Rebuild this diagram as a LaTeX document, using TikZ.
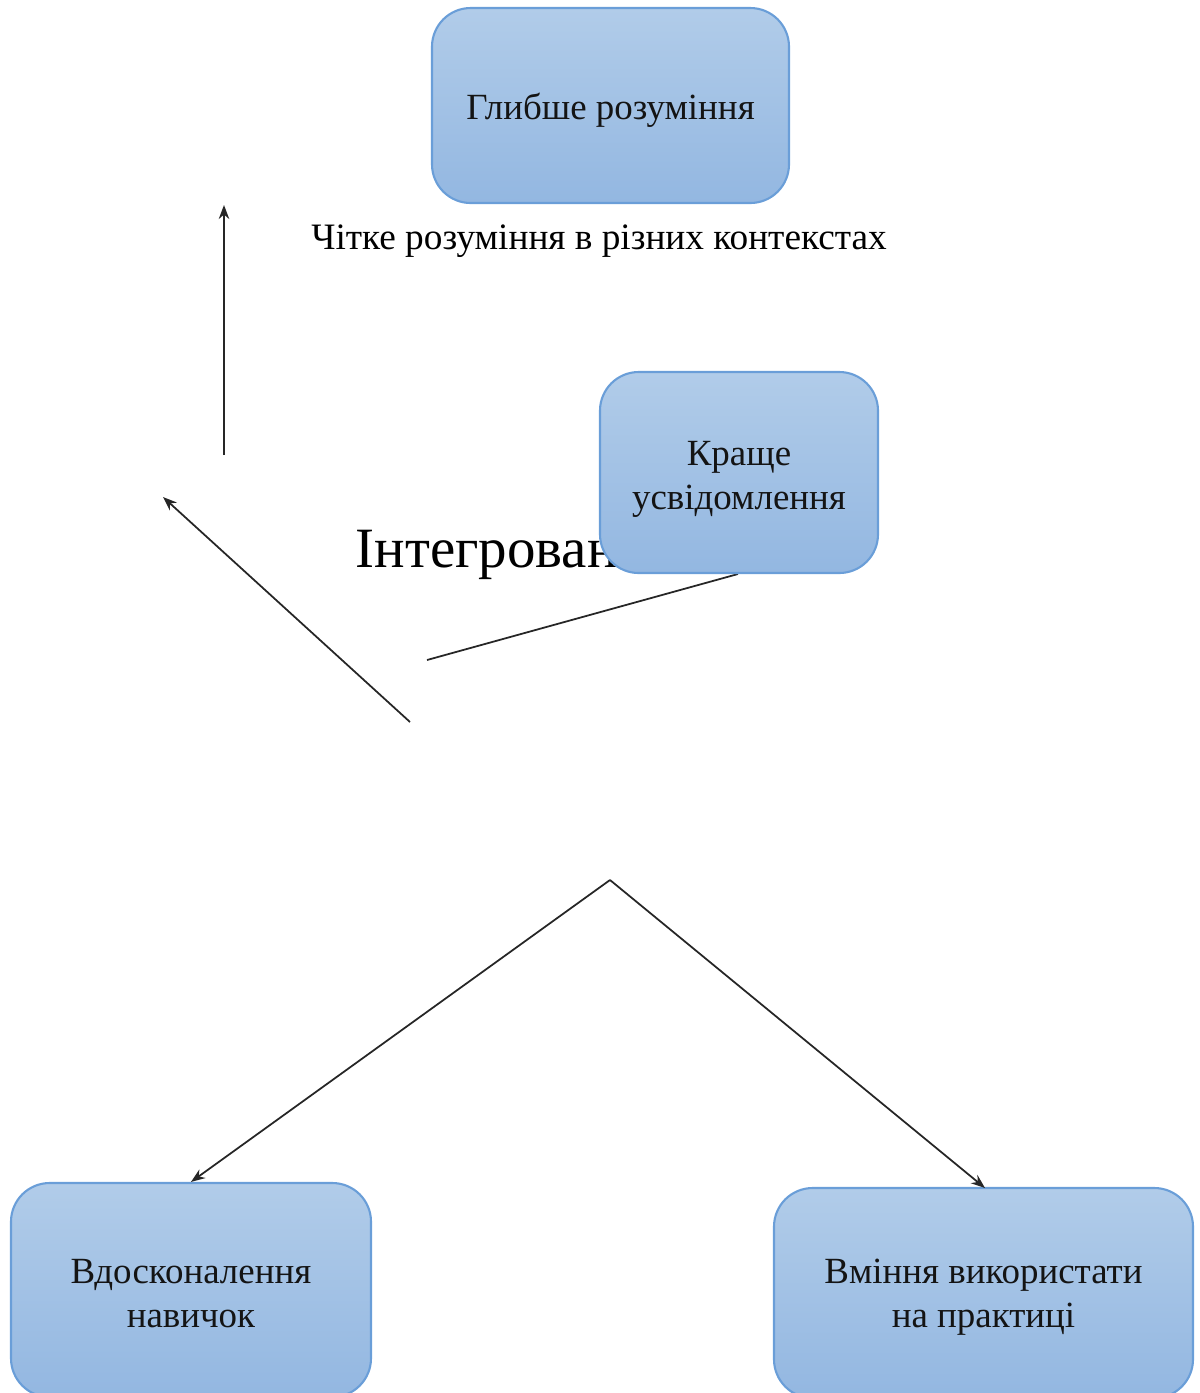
\documentclass[tikz,border=0pt]{standalone}
\usepackage{fontspec}
\setmainfont{Liberation Serif}
\usetikzlibrary{arrows.meta}
\definecolor{boxtop}{HTML}{B1CCE9}
\definecolor{boxbot}{HTML}{93B7E1}
\definecolor{boxline}{HTML}{6A9ED8}
\definecolor{lin}{HTML}{262626}
\tikzset{
  box/.style={draw=boxline, line width=0.6pt, rounded corners=11pt, top color=boxtop, bottom color=boxbot, inner sep=0pt},
  boxtext/.style={align=center, text=black!92, font=\fontsize{10.5}{12.5}\selectfont, inner sep=0pt},
  conn/.style={draw=lin, line width=0.5pt},
  arr/.style={conn, -{Stealth[length=4pt,width=3pt]}},
  lbl/.style={inner sep=0pt, text=black},
}
\begin{document}
\begin{tikzpicture}[x=0.01cm,y=-0.01cm]
\useasboundingbox (0,0) rectangle (1199,1393);
% big label behind middle box
\node[lbl, anchor=base west, font=\fontsize{16.2}{18}\selectfont] (integ) at (355,567) {Інтегроване};
% connector going under middle box
\coordinate (lstart) at (427,660);
\coordinate (lend) at (738,574);
\draw[conn] (lstart) -- (lend);
% boxes
\node[box, minimum width=357*0.01cm, minimum height=195*0.01cm] (top) at (610.5,105.5) {};
\node[boxtext] (toptext) at ([shift={(0,5)}]top.center) {Глибше розуміння};
\node[box, minimum width=278*0.01cm, minimum height=201*0.01cm] (mid) at (739,472.5) {};
\node[boxtext] (midtext) at ([shift={(0,7)}]mid.center) {Краще\\усвідомлення};
\node[box, minimum width=360*0.01cm, minimum height=214*0.01cm] (bl) at (191,1290) {};
\node[boxtext] (bltext) at ([shift={(0,4)}]bl.center) {Вдосконалення\\навичок};
\node[box, minimum width=419*0.01cm, minimum height=210*0.01cm] (br) at (983.5,1293) {};
\node[boxtext] (brtext) at ([shift={(0,4)}]br.center) {Вміння використати\\на практиці};
% free text
\node[lbl, anchor=base, font=\fontsize{10.6}{12}\selectfont] (clear) at (599,249) {Чітке розуміння в різних контекстах};
% arrows
\coordinate (v1) at (224,455);
\coordinate (v2) at (224,205);
\draw[arr] (v1) -- (v2);
\coordinate (d1) at (410,722);
\coordinate (d2) at (163,497);
\draw[arr] (d1) -- (d2);
\coordinate (apex) at (610,880);
\draw[arr] (apex) -- (bl.north);
\draw[arr] (apex) -- (985,1188) coordinate (brtop);
\end{tikzpicture}
\end{document}
